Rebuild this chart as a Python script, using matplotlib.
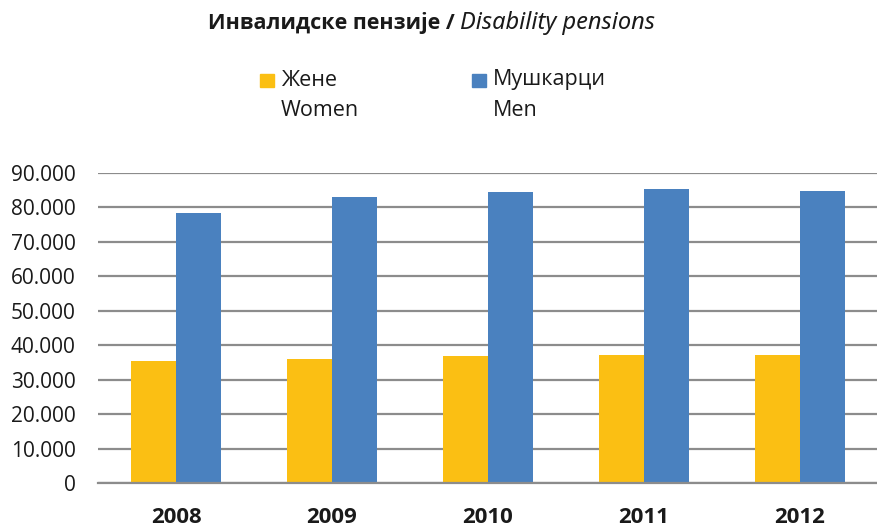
import matplotlib
matplotlib.use("Agg")
import matplotlib.pyplot as plt
from matplotlib.ticker import FuncFormatter
from matplotlib.patches import Rectangle
import numpy as np

plt.rcParams['font.family'] = ['Open Sans', 'DejaVu Sans']

years = ['2008', '2009', '2010', '2011', '2012']
women = [35500, 36000, 36800, 37100, 37100]
men = [78400, 82900, 84600, 85300, 84900]
yticks = list(range(0, 90001, 10000))

c_women = '#FBBF13'
c_men = '#4A81BF'
grid_c = '#8c8c8c'

W, H = 878, 529
fig = plt.figure(figsize=(W/100, H/100), dpi=100)
ax = fig.add_axes([98/W, 1-483/H, 1-98/W, (483-173)/H])

x = np.arange(len(years))
bw = 0.287
ax.bar(x - bw/2, women, bw, color=c_women, zorder=3)
ax.bar(x + bw/2, men, bw, color=c_men, zorder=3)

ax.set_xlim(-0.5, len(years)-0.5)
ax.set_ylim(0, 90000)
ax.set_yticks(yticks)
ax.yaxis.set_major_formatter(FuncFormatter(lambda v, p: f"{int(v):,}".replace(',', '.')))
ax.yaxis.grid(True, color=grid_c, linewidth=1.6, zorder=0)
ax.set_axisbelow(True)
for s in ['top', 'right', 'left']:
    ax.spines[s].set_visible(False)
ax.spines['bottom'].set_color(grid_c)
ax.spines['bottom'].set_linewidth(1.6)
ax.spines['bottom'].set_zorder(4)
ax.set_xticks(x)
ax.set_xticklabels(years, fontsize=16, fontweight='bold', color='#1a1a1a')
ax.tick_params(axis='x', length=0, pad=17)
ax.tick_params(axis='y', length=0, pad=16, labelsize=15, labelcolor='#1a1a1a')

# title
ty = 1 - 23/H
fig.text(455/W, ty, 'Инвалидске пензије /', ha='right', va='center', fontsize=15.5,
         fontweight='bold', color='#1a1a1a')
fig.text(460/W, ty, 'Disability pensions', ha='left', va='center', fontsize=17,
         style='italic', color='#1a1a1a', family=['Noto Sans', 'DejaVu Sans'])

# legend
for (sx, tx, lab1, lab2, c) in [(260, 281, 'Жене', 'Women', c_women),
                                (472, 493, 'Мушкарци', 'Men', c_men)]:
    fig.patches.append(Rectangle((sx/W, 1-87/H), 14/W, 13/H, transform=fig.transFigure,
                                 color=c, figure=fig))
    fig.text(tx/W, 1-80/H, lab1, ha='left', va='center', fontsize=15.5, color='#1a1a1a')
    fig.text(tx/W, 1-111/H, lab2, ha='left', va='center', fontsize=15.5, color='#1a1a1a')

fig.savefig('out.png', dpi=100)
